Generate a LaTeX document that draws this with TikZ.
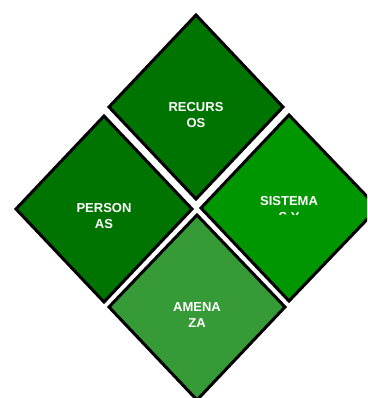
\documentclass[tikz,border=0pt]{standalone}
\usepackage{fontspec}
\setmainfont{Liberation Sans}
\definecolor{gdark}{RGB}{0,116,0}
\definecolor{gmid}{RGB}{0,150,0}
\definecolor{glight}{RGB}{54,154,54}
\tikzset{
  dia/.style={draw=black,line width=3pt,line join=miter},
  lbl/.style={text=white,font=\fontsize{13}{16.5}\selectfont\bfseries,align=center,inner sep=0pt},
}
\begin{document}
\begin{tikzpicture}[x=1pt,y=-1pt]
\useasboundingbox (0,0) rectangle (367,398);
\begin{scope}
\clip (0,0) rectangle (367,398);
\path[dia,fill=gdark] (196,15) -- (283,107) -- (196,199) -- (109,107) -- cycle;
\path[dia,fill=gdark] (104,116) -- (192,209) -- (104,302) -- (16,209) -- cycle;
\path[dia,fill=gmid] (289,115) -- (378,208) -- (289,301) -- (201,208) -- cycle;
\path[dia,fill=glight] (197,215) -- (285,307) -- (197,400) -- (109,307) -- cycle;
\end{scope}
\node[lbl] (recursos) at (196,115) {RECURS\\OS};
\node[lbl] (personas) at (104,216) {PERSON\\AS};
\node[lbl] (amenaza) at (197,315) {AMENA\\ZA};
\begin{scope}
\clip (200,150) rectangle (367,214);
\node[lbl] (sistemas) at (289,209) {SISTEMA\\S Y};
\end{scope}
\end{tikzpicture}
\end{document}
